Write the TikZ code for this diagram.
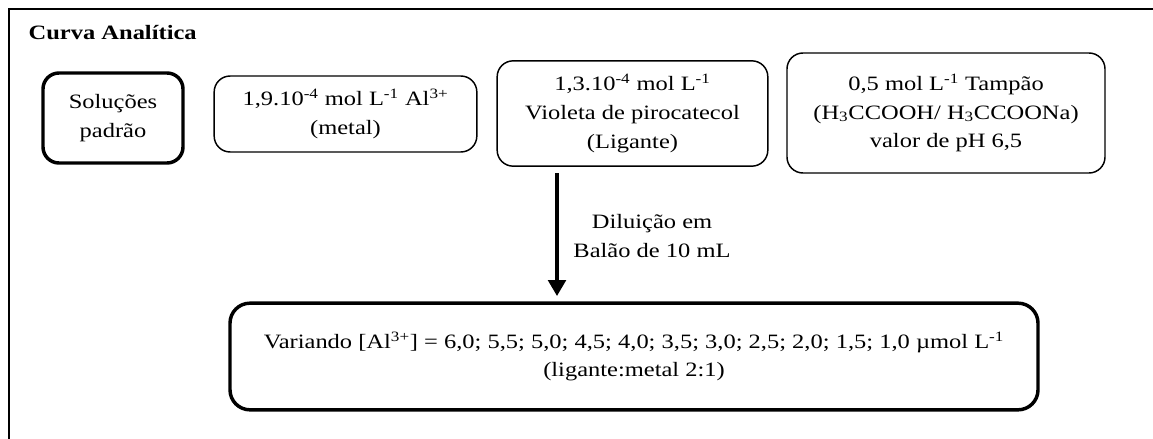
\documentclass[tikz,border=0pt]{standalone}
\usepackage{fontspec}
\setmainfont{Liberation Serif}[FakeStretch=1.2]
\usetikzlibrary{arrows.meta}
\tikzset{
  box/.style={draw, rounded corners=12pt, line width=1.1pt, align=center, inner sep=0pt,
    font=\fontsize{15.3}{21.5}\selectfont},
  thickbox/.style={box, line width=2.6pt},
  lbl/.style={align=center, font=\fontsize{15.3}{21.5}\selectfont},
}
\begin{document}
\begin{tikzpicture}[x=0.75pt,y=-0.75pt]
\useasboundingbox (0,0) rectangle (1153,439);
\draw[line width=1.6pt] (9,439) -- (9,9) -- (1153,9);
\node[anchor=base west, font=\fontsize{15.3}{17}\selectfont\bfseries] (title) at (24,39) {Curva Analítica};
\node[thickbox, minimum width=105pt, minimum height=67.5pt] (b1) at (113,118) {Soluções\\padrão};
\node[box, minimum width=197pt, minimum height=57pt] (b2) at (345.5,114) {1,9.10\textsuperscript{-4} mol L\textsuperscript{-1} Al\textsuperscript{3+}\\(metal)};
\node[box, minimum width=203pt, minimum height=79pt] (b3) at (632.5,113.5) {1,3.10\textsuperscript{-4} mol L\textsuperscript{-1}\\Violeta de pirocatecol\\(Ligante)};
\node[box, minimum width=238.5pt, minimum height=90pt] (b4) at (946,113) {0,5 mol L\textsuperscript{-1} Tampão\\(H\textsubscript{3}CCOOH/ H\textsubscript{3}CCOONa)\\valor de pH 6,5};
\node[thickbox, rounded corners=15pt, minimum width=606pt, minimum height=80pt] (b5) at (634,356.5) {Variando [Al\textsuperscript{3+}] = 6,0; 5,5; 5,0; 4,5; 4,0; 3,5; 3,0; 2,5; 2,0; 1,5; 1,0 µmol L\textsuperscript{-1}\\(ligante:metal 2:1)};
\coordinate (a1) at (557,173);
\draw[line width=3.7pt, -{Triangle[length=12pt,width=13pt]}, shorten >=4pt] (a1) -- (a1 |- b5.north);
\node[lbl] (l1) at (652,236) {Diluição em\\Balão de 10 mL};
\end{tikzpicture}
\end{document}
